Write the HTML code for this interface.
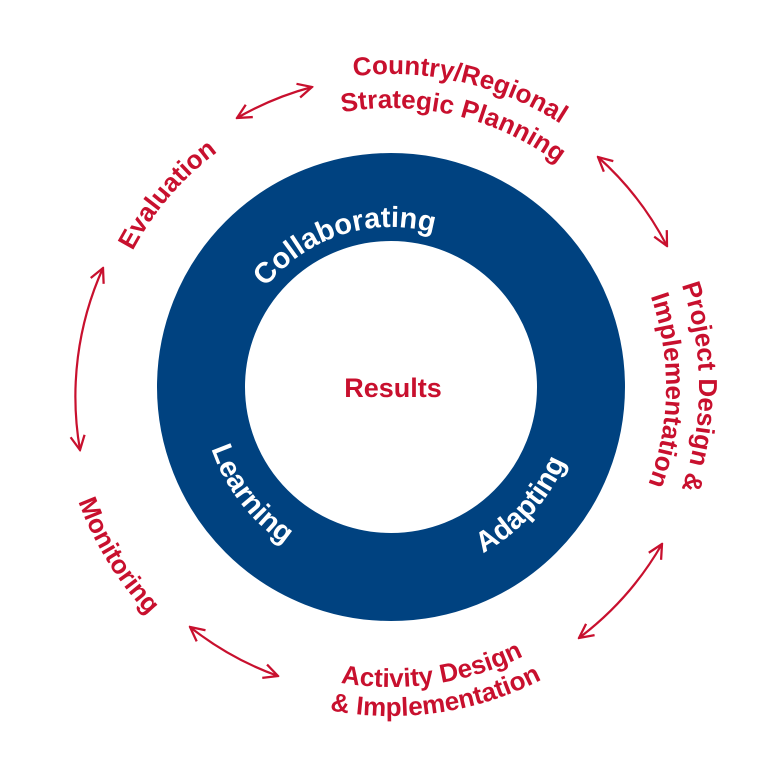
<!DOCTYPE html>
<html><head><meta charset="utf-8"><style>html,body{margin:0;padding:0;background:#fff}svg{display:block}</style></head>
<body>
<svg width="782" height="782" viewBox="0 0 782 782" xmlns="http://www.w3.org/2000/svg">
<defs>
<marker id="a" viewBox="0 0 12 12" refX="11" refY="6" markerWidth="17" markerHeight="17" markerUnits="userSpaceOnUse" orient="auto-start-reverse">
<path d="M1,1 L11,6 L1,11" fill="none" stroke="#c8102e" stroke-width="1.6"/>
</marker>
<path id="cw292" d="M391,679 A292,292 0 1 1 391,95 A292,292 0 1 1 391,679"/>
<path id="cw313" d="M391,700 A313,313 0 1 1 391,74 A313,313 0 1 1 391,700"/>
<path id="cw279" d="M391,666 A279,279 0 1 1 391,108 A279,279 0 1 1 391,666"/>
<path id="cw308" d="M391,695 A308,308 0 1 1 391,79 A308,308 0 1 1 391,695"/>
<path id="cw275" d="M391,662 A275,275 0 1 1 391,112 A275,275 0 1 1 391,662"/>
<path id="cw160" d="M391,547 A160,160 0 1 1 391,227 A160,160 0 1 1 391,547"/>
<path id="cc300" d="M391,87 A300,300 0 1 0 391,687 A300,300 0 1 0 391,87"/>
<path id="cc329" d="M391,58 A329,329 0 1 0 391,716 A329,329 0 1 0 391,58"/>
<path id="cc333" d="M391,54 A333,333 0 1 0 391,720 A333,333 0 1 0 391,54"/>
<path id="cc190" d="M391,197 A190,190 0 1 0 391,577 A190,190 0 1 0 391,197"/>
</defs>

<circle cx="391" cy="387" r="190" fill="none" stroke="#004280" stroke-width="88"/>

<g fill="none" stroke="#c8102e" stroke-width="2.2" marker-start="url(#a)" marker-end="url(#a)">
<path d="M237,118 A310,310 0 0 1 312,87"/>
<path d="M598,157 A310,310 0 0 1 667,246"/>
<path d="M662,544 A313,313 0 0 1 579,638"/>
<path d="M278,676 A310,310 0 0 1 190,627"/>
<path d="M80,450 A313,313 0 0 1 103,268"/>
</g>

<g font-family="Liberation Sans, sans-serif" fill="#c8102e" font-size="26" font-weight="bold" text-anchor="middle">
<text><textPath href="#cw292" startOffset="36.3%">Evaluation</textPath></text>
<text><textPath href="#cw313" startOffset="53.6%">Country/Regional</textPath></text>
<text><textPath href="#cw279" startOffset="53.7%">Strategic Planning</textPath></text>
<text><textPath href="#cw308" startOffset="75%">Project Design &amp;</textPath></text>
<text><textPath href="#cw275" startOffset="75.2%">Implementation</textPath></text>
<text><textPath href="#cc300" startOffset="52.3%">Activity Design</textPath></text>
<text><textPath href="#cc329" startOffset="52.3%">&amp; Implementation</textPath></text>
<text><textPath href="#cc333" startOffset="33.8%">Monitoring</textPath></text>
</g>

<g font-family="Liberation Sans, sans-serif" fill="#fff" font-size="29" font-weight="bold" text-anchor="middle">
<text><textPath href="#cw160" startOffset="45%">Collaborating</textPath></text>
<text><textPath href="#cc190" startOffset="35.4%">Learning</textPath></text>
<text><textPath href="#cc190" startOffset="63.3%">Adapting</textPath></text>
</g>

<text x="393" y="397" font-family="Liberation Sans, sans-serif" font-size="27" font-weight="bold" fill="#c8102e" text-anchor="middle">Results</text>
</svg>
</body></html>
